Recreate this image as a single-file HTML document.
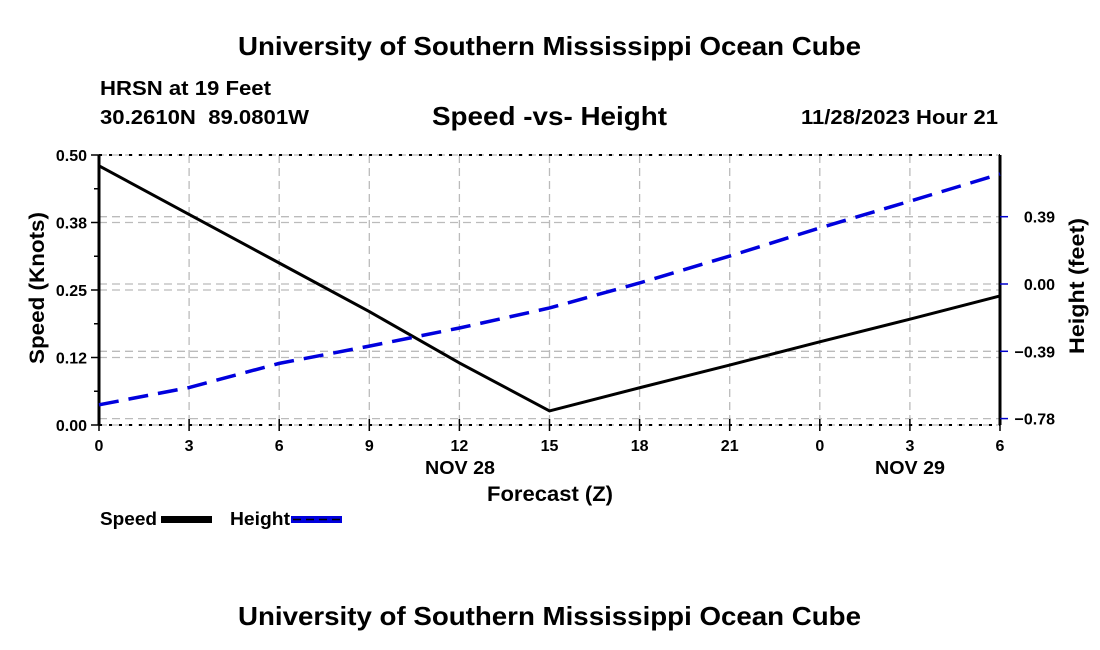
<!DOCTYPE html>
<html><head><meta charset="utf-8"><style>
body{margin:0;background:#fff;}
svg{display:block;font-family:"Liberation Sans",sans-serif;font-weight:bold;}
</style></head><body>
<svg id="c" width="1100" height="650" viewBox="0 0 1100 650">
<text x="238" y="55" font-size="26" textLength="623" lengthAdjust="spacingAndGlyphs">University of Southern Mississippi Ocean Cube</text>
<text x="100" y="95" font-size="20" textLength="171" lengthAdjust="spacingAndGlyphs">HRSN at 19 Feet</text>
<text x="100" y="124" font-size="20" textLength="209" lengthAdjust="spacingAndGlyphs" xml:space="preserve">30.2610N  89.0801W</text>
<text x="432" y="125" font-size="26" textLength="235" lengthAdjust="spacingAndGlyphs">Speed -vs- Height</text>
<text x="801" y="124" font-size="20" textLength="197" lengthAdjust="spacingAndGlyphs">11/28/2023 Hour 21</text>
<text x="238" y="625" font-size="26" textLength="623" lengthAdjust="spacingAndGlyphs">University of Southern Mississippi Ocean Cube</text>
<g id="plot"></g>
</svg>
<script>
const hours=[0,3,6,9,12,15,18,21,24,27,30];
const xTickLabels=["0","3","6","9","12","15","18","21","0","3","6"];
const speed=[0.48,0.39,0.30,0.21,0.115,0.026,0.069,0.111,0.154,0.196,0.239];
const height=[-0.70,-0.60,-0.46,-0.36,-0.255,-0.139,0.006,0.162,0.325,0.48,0.637];
const speedTicks=[0,0.125,0.25,0.375,0.5];
const speedTickLabels=["0.00","0.12","0.25","0.38","0.50"];
const heightTicks=[-0.78,-0.39,0,0.39];
const heightTickLabels=["\u22120.78","\u22120.39","0.00","0.39"];

const L=99,R=1000,T=155,B=425;
const sx=h=>L+(h-0)/(30-0)*(R-L);
const sy=v=>B-v/0.5*(B-T);
const hy=v=>284-v/0.39*67.3;
const NS="http://www.w3.org/2000/svg";
const g=document.getElementById('plot');
function mk(tag,attrs,txt){const e=document.createElementNS(NS,tag);for(const k in attrs)e.setAttribute(k,attrs[k]);if(txt!==undefined)e.textContent=txt;g.appendChild(e);return e;}

hours.forEach((h,i)=>{
 const e=mk('line',{x1:sx(h),x2:sx(h),y1:T,y2:B,stroke:'#bbb','stroke-width':1.3,'stroke-dasharray':'8,5'});
 
 
});
speedTicks.forEach(v=>{
 const e=mk('line',{x1:L,x2:R,y1:sy(v),y2:sy(v),stroke:'#bbb','stroke-width':1.3,'stroke-dasharray':'8,5'});
 
 
});
heightTicks.forEach(v=>{
 const e=mk('line',{x1:L,x2:R,y1:hy(v),y2:hy(v),stroke:'#bbb','stroke-width':1.3,'stroke-dasharray':'8,5'});
 
 
});
[[L,T,R,T],[L,B,R,B]].forEach(a=>{
 const e=mk('line',{x1:a[0],y1:a[1],x2:a[2],y2:a[3],stroke:'#000','stroke-width':2,'stroke-dasharray':'3,7'});
 
 
});
let e=mk('line',{x1:L,y1:T,x2:L,y2:B,stroke:'#000','stroke-width':3});


e=mk('line',{x1:R,y1:T,x2:R,y2:B,stroke:'#000','stroke-width':3});


for(let v=0;v<=0.5001;v+=0.0625){
 const major=Math.abs(v/0.125-Math.round(v/0.125))<1e-6;
 const t=mk('line',{x1:L-(major?8:5),x2:L,y1:sy(v),y2:sy(v),stroke:'#000','stroke-width':1.5});
 
 
}
speedTicks.forEach((v,i)=>{
 const t=mk('text',{x:87,y:sy(v)+6,'font-size':16,'text-anchor':'end'},speedTickLabels[i]);
 
 
});
heightTicks.forEach((v,i)=>{
 const k=mk('line',{x1:R,x2:R+8,y1:hy(v),y2:hy(v),stroke:'#00c','stroke-width':1.5});
 
 
 const t=mk('text',{x:1055,y:hy(v)+6,'font-size':16,'text-anchor':'end'},heightTickLabels[i]);
 
 
});
hours.forEach((h,i)=>{
 const k=mk('line',{x1:sx(h),x2:sx(h),y1:B-6,y2:B+6,stroke:'#000','stroke-width':1.5});
 
 
 const t=mk('text',{x:sx(h),y:451,'font-size':16,'text-anchor':'middle'},xTickLabels[i]);
 
 
});
e=mk('text',{x:425,y:474,'font-size':18,textLength:70,lengthAdjust:'spacingAndGlyphs'},'NOV 28');


e=mk('text',{x:875,y:474,'font-size':18,textLength:70,lengthAdjust:'spacingAndGlyphs'},'NOV 29');


e=mk('text',{x:487,y:501,'font-size':21,textLength:126,lengthAdjust:'spacingAndGlyphs'},'Forecast (Z)');


e=mk('text',{x:-75,y:0,'font-size':21,textLength:152,lengthAdjust:'spacingAndGlyphs',transform:'translate(44,289) rotate(-90)'},'Speed (Knots)');


e=mk('text',{x:-68,y:0,'font-size':21,textLength:136,lengthAdjust:'spacingAndGlyphs',transform:'translate(1084,286) rotate(-90)'},'Height (feet)');


e=mk('polyline',{points:hours.map((h,i)=>sx(h)+','+sy(speed[i])).join(' '),fill:'none',stroke:'#000','stroke-width':3});


e=mk('polyline',{points:hours.map((h,i)=>sx(h)+','+hy(height[i])).join(' '),fill:'none',stroke:'#0000dd','stroke-width':3.5,'stroke-dasharray':'20,10'});


e=mk('text',{x:100,y:525,'font-size':18,textLength:57,lengthAdjust:'spacingAndGlyphs'},'Speed');


e=mk('rect',{x:161,y:516,width:51,height:7,fill:'#000'});


e=mk('text',{x:230,y:525,'font-size':18,textLength:60,lengthAdjust:'spacingAndGlyphs'},'Height');


e=mk('rect',{x:291,y:516,width:51,height:7,fill:'#0000dd'});


e=mk('line',{x1:293,x2:340,y1:519.5,y2:519.5,stroke:'#000','stroke-width':1.5,'stroke-dasharray':'8,5'});


</script>
</body></html>
